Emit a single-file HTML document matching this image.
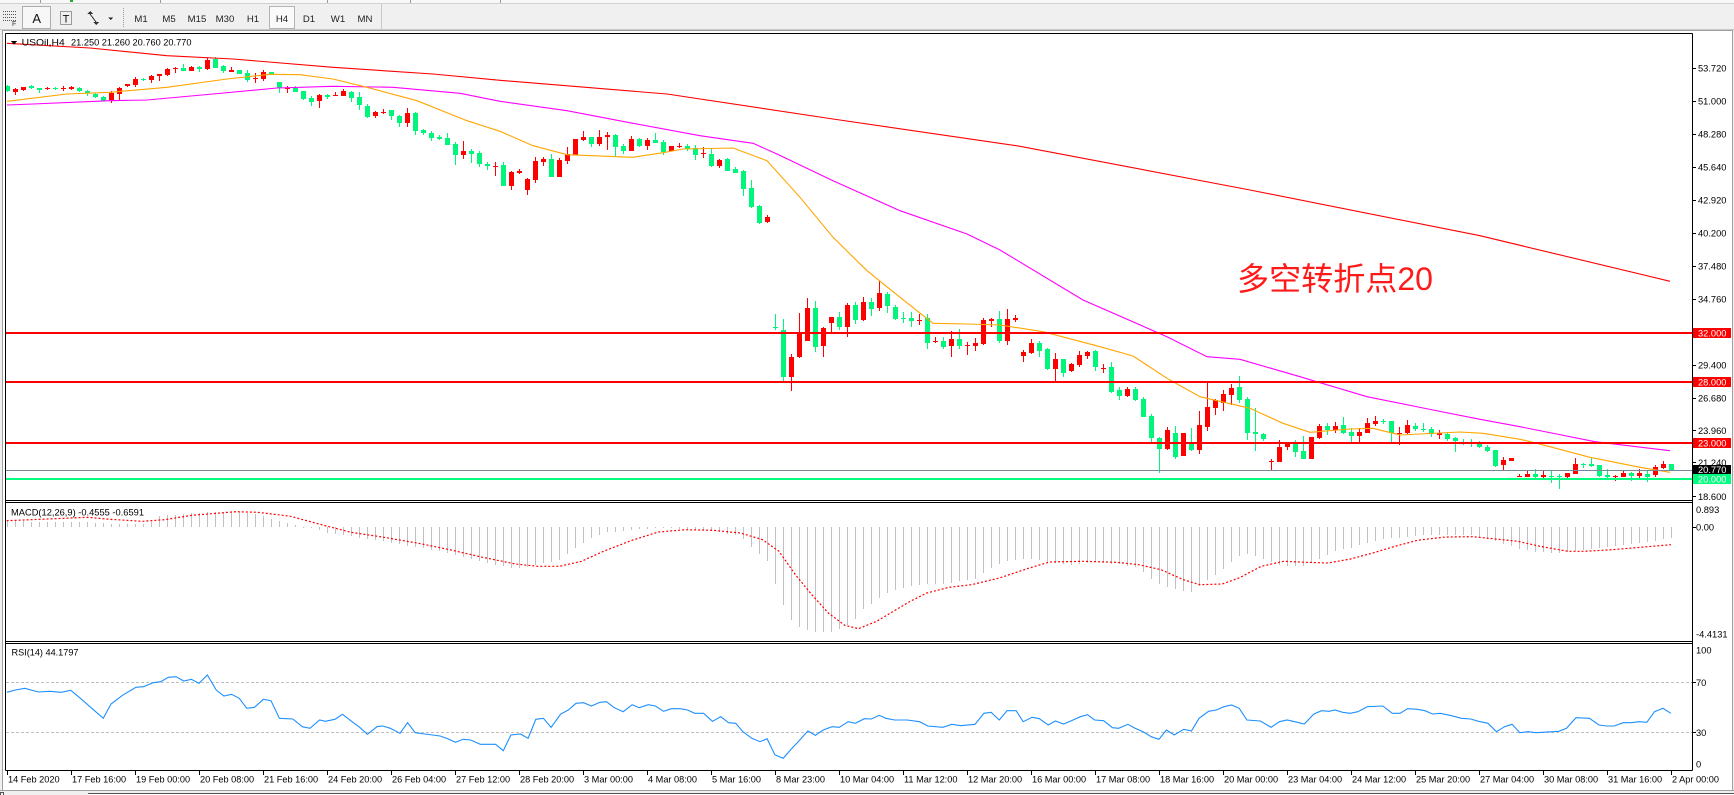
<!DOCTYPE html>
<html><head><meta charset="utf-8">
<style>
html,body{margin:0;padding:0;background:#F0F0F0;overflow:hidden;}
svg{display:block;}
text{font-family:"Liberation Sans","Noto Sans CJK SC",sans-serif;}
.ax{font-size:9.3px;fill:#000;}
.tb{font-size:9.6px;fill:#222;text-anchor:middle;}
</style></head>
<body>
<svg id="c" xmlns="http://www.w3.org/2000/svg" width="1734" height="795" viewBox="0 0 1734 795" shape-rendering="crispEdges">
<defs>
<clipPath id="mainclip"><rect x="6" y="34" width="1686" height="466"/></clipPath>
<clipPath id="macdclip"><rect x="6" y="503" width="1686" height="138"/></clipPath>
<clipPath id="rsiclip"><rect x="6" y="644" width="1686" height="126"/></clipPath>
</defs>
<rect x="0" y="0" width="1734" height="795" fill="#F0F0F0"/>
<!-- top strip -->
<rect x="0" y="0" width="1734" height="3" fill="#F8F8F8"/>
<line x1="0" y1="3.5" x2="1734" y2="3.5" stroke="#D0D0D0"/>
<rect x="40" y="0" width="1" height="3" fill="#999"/>
<rect x="70" y="0" width="3" height="2" fill="#22AA22"/>
<rect x="160" y="0" width="1" height="3" fill="#999"/>
<rect x="327" y="0" width="1" height="3" fill="#999"/>
<rect x="410" y="0" width="1" height="3" fill="#999"/>
<rect x="500" y="0" width="1" height="3" fill="#999"/>

<!-- toolbar -->
<g stroke="#555" stroke-dasharray="1,1" fill="none">
<line x1="3" y1="11.5" x2="16" y2="11.5"/>
<line x1="3" y1="14.5" x2="16" y2="14.5"/>
<line x1="3" y1="17.5" x2="16" y2="17.5"/>
<line x1="3" y1="20.5" x2="16" y2="20.5"/>
</g>
<text x="12" y="26" style="font-size:7px;fill:#333">F</text>
<rect x="22.5" y="6.5" width="28" height="22" fill="#F7F7F7" stroke="#ADADAD"/>
<text x="36.7" y="23" style="font-size:13px;fill:#111;text-anchor:middle">A</text>
<rect x="60.5" y="11.5" width="11" height="13" fill="none" stroke="#444" stroke-dasharray="1,1"/>
<text x="66" y="22.5" style="font-size:11px;fill:#111;text-anchor:middle">T</text>
<path d="M87 14 l3 -3 l3 3 z M93 22 l3 3 l3 -3 z" fill="#333"/>
<line x1="90" y1="14" x2="96" y2="22" stroke="#333"/>
<path d="M108 17.5 h5 l-2.5 2.5 z" fill="#222"/>
<line x1="123.5" y1="8" x2="123.5" y2="27" stroke="#999" stroke-dasharray="1,1"/>
<rect x="269.5" y="6.5" width="25" height="22" fill="#FAFAFA" stroke="#B4B4B4"/>
<text class="tb" x="141" y="22">M1</text>
<text class="tb" x="169" y="22">M5</text>
<text class="tb" x="197" y="22">M15</text>
<text class="tb" x="225" y="22">M30</text>
<text class="tb" x="253" y="22">H1</text>
<text class="tb" x="282" y="22">H4</text>
<text class="tb" x="309" y="22">D1</text>
<text class="tb" x="338" y="22">W1</text>
<text class="tb" x="365" y="22">MN</text>
<line x1="381.5" y1="4" x2="381.5" y2="30" stroke="#C8C8C8"/>
<line x1="0" y1="29.5" x2="1734" y2="29.5" stroke="#C8C8C8"/>

<!-- chart window -->
<rect x="3" y="30" width="1729" height="760" fill="#FFFFFF"/>
<line x1="2.5" y1="30" x2="2.5" y2="790" stroke="#A0A0A0"/>
<line x1="1732.5" y1="30" x2="1732.5" y2="790" stroke="#A0A0A0"/>
<line x1="3" y1="30.5" x2="1732" y2="30.5" stroke="#A0A0A0"/>

<!-- bottom -->
<rect x="0" y="790" width="1734" height="5" fill="#F0F0F0"/>
<line x1="0" y1="790.5" x2="1734" y2="790.5" stroke="#A0A0A0"/>
<line x1="88" y1="793.5" x2="1734" y2="793.5" stroke="#555"/>
<rect x="88" y="794" width="1646" height="1" fill="#FFFFFF"/>
<rect x="0.5" y="792.5" width="3" height="3" fill="none" stroke="#555"/>

<!-- main panel -->
<g clip-path="url(#mainclip)">
<g id="candles"></g>
<g shape-rendering="auto" fill="none" stroke-width="1.1">
<polyline stroke="#FF0000" points="7,43.3 90,48 167,55.7 233,59 333,67.3 433,74 500,80.3 667,94 833,119 1020,146.3 1250,190 1480,235.7 1670,281.3"/>
<polyline stroke="#FF00FF" points="7,105 33,104 110,100.7 147,100 213,94 277,88 333,86.3 393,87.3 460,93.3 500,101.3 567,110.7 633,123.3 700,135.7 753,143.3 777,154 833,180.7 900,210.7 967,234 1000,250 1083,300 1167,336.7 1207,356.7 1240,359.3 1300,376.7 1367,396.7 1433,410 1480,419.3 1520,426.7 1595,441.7 1670,450.7"/>
<polyline stroke="#FFA500" points="7,101.3 67,94 110,92.3 167,87.3 227,79 270,74.3 300,74.7 333,79 367,87.3 417,100.7 467,120.7 500,131.3 533,145.7 567,154.7 633,157.3 663,152.7 683,149 733,148 767,160.7 800,197.3 833,237.3 867,270.7 900,297.3 933,323.3 967,324 1000,325 1043,331.7 1100,346.7 1133,356 1167,378.3 1200,396.7 1250,408.3 1283,423.3 1310,432.3 1350,429 1373,428.3 1400,435 1460,432 1483,433.3 1520,439.3 1537,443.3 1590,457.3 1640,467.3 1670,472.3"/>
</g>
<rect x="6" y="332" width="1686" height="2" fill="#FF0000"/>
<rect x="6" y="381" width="1686" height="2" fill="#FF0000"/>
<rect x="6" y="442" width="1686" height="2" fill="#FF0000"/>
<rect x="6" y="470" width="1686" height="1" fill="#778899"/>
<rect x="6" y="478" width="1686" height="2" fill="#00FF7F"/>
</g>
<text x="1237" y="290" textLength="196" lengthAdjust="spacingAndGlyphs" style="font-family:'Liberation Sans','Noto Sans CJK SC',sans-serif;font-size:32px;fill:#FF1A1A" shape-rendering="auto">多空转折点20</text>
<path d="M11 41 h6 l-3 4 z" fill="#000"/>
<text class="ax" x="21.7" y="45.5" textLength="43" lengthAdjust="spacingAndGlyphs">USOil,H4</text>
<text class="ax" x="71" y="45.5" textLength="120.5" lengthAdjust="spacingAndGlyphs">21.250 21.260 20.760 20.770</text>

<!-- MACD panel -->
<g clip-path="url(#macdclip)">
<g id="hist"></g>
<polyline shape-rendering="auto" fill="none" stroke="#FF0000" stroke-width="1.2" stroke-dasharray="2,2" points="6.6,520.7 54.9,518.7 87.8,517.3 109.7,519.3 142.6,521.3 164.6,519.7 192,515.3 236,511.7 257.8,512.3 290.7,516.3 323.6,525.3 351,532.3 384,537.3 417,543 449.8,549.7 482.7,557.3 515.6,564 537.6,566.3 559.5,566.3 581.5,561.3 603.4,551.3 630.8,540.7 658.3,532 685.7,529.7 713,530.3 740.5,533 762.5,539.7 779,551.3 795.4,574.7 811.8,594.7 828.3,613 844.8,625.3 858.5,628.7 876.7,621.3 893.4,611.3 910.2,601.3 926.9,593 949.2,587.3 971.5,584.7 999.4,578 1027.2,568.7 1049.5,562 1083,561.3 1116.4,562.3 1138.7,564.7 1161,569.7 1183.3,579.7 1200,584.7 1222.3,584 1239,578 1261.3,566.3 1283.6,561.3 1306,562.3 1328.2,563 1350.5,559 1372.8,553 1395,546.3 1417.4,540.3 1445.3,537 1473,536.7 1495.5,539 1517.8,541.3 1540,546.3 1568,551.3 1584.6,551.3 1612.5,549.7 1640.4,547.3 1671,544.7"/>
</g>
<text class="ax" x="11" y="515.5" textLength="133" lengthAdjust="spacingAndGlyphs">MACD(12,26,9) -0.4555 -0.6591</text>

<!-- RSI panel -->
<g clip-path="url(#rsiclip)">
<line x1="6" y1="682.5" x2="1692" y2="682.5" stroke="#C0C0C0" stroke-dasharray="3,2"/>
<line x1="6" y1="732.5" x2="1692" y2="732.5" stroke="#C0C0C0" stroke-dasharray="3,2"/>
<polyline shape-rendering="auto" fill="none" stroke="#1E90FF" stroke-width="1.1" points="6.9,692.3 15.3,690 24.9,688.3 38.3,692 49.8,691.3 61.2,692.3 70.8,690.3 80.4,698.3 91.8,708.3 103.3,718.3 111,704 122.5,695.3 135.9,687.3 143.5,686.7 153.1,682.7 160.7,681.7 168.4,677.3 176,676.7 183.7,681 191.4,679.3 199,683.3 207.4,675 216.2,690 223.9,696 231.5,694.3 239.2,698.3 246.8,708.3 254.5,707.3 263.3,699.3 271,700.7 279.4,718.3 292.8,719 302.3,726.7 310,728.3 319.6,720 325.3,721.3 334.9,719.3 342.5,714.3 352.1,721.7 359.7,727.3 367.4,734.3 377,726.7 382.7,726 390.4,728.3 399.9,733.3 407.6,722.7 415.2,732.7 424.8,734 440.1,736 447.8,738.7 455.4,742.3 463.1,739.3 470.7,740 480.3,744.3 495.6,744.3 503.3,750.7 510.9,735 520.5,734 528.1,738.3 535.8,719.3 543.4,718.3 551.1,727.3 560.7,714 568.3,710 576,703.3 583.6,702.7 591.3,706 600,702.3 606.4,701.7 614.3,707.7 623.2,711.7 632.1,704.7 639.3,707.7 648.2,704.7 655.4,706 663.6,711.3 671.4,708.7 680.4,708.7 687.5,710 694.6,713.3 703.6,713.3 712.5,721.3 720.7,716.7 728.6,722.7 735.7,723.3 742.9,731.7 751.8,738.3 760,741.7 767.1,738.7 775,755 783.2,758.3 791.1,749.3 798.2,741.7 807.9,731 815.4,735.3 823.2,730 832.1,726.7 839.3,727.3 848.2,721.7 855.4,723.3 864.3,718.7 871.4,719 879.3,715.3 885.7,718.3 894.6,720 907.1,720 919.6,721.7 927.9,726 942.9,727.3 951.8,724.3 960.7,725.7 975,724.3 983.9,713.3 991.1,712.3 999.3,720 1007.1,710.7 1016.1,710.7 1023.2,721.7 1032.1,717.3 1039.3,718.7 1048.2,725 1055.4,721 1063.6,724 1071.4,720.7 1080.4,716.7 1087.5,714.7 1094.6,720 1103.6,720.7 1112.5,727.7 1118.6,728.3 1127.9,724.3 1134,727.7 1143.6,732 1151.2,736.7 1158.9,739.3 1166.5,730 1174.2,735 1183.8,729.3 1191.4,731 1199.1,718.3 1208.6,711.3 1216.3,710 1223.9,706.7 1231.6,705 1239.2,708.3 1246.9,720 1260.3,721 1271,727.3 1279.4,721.7 1287.1,720 1294.7,721.7 1304.3,724 1313.9,714 1321.5,710.7 1329.2,711.3 1334.9,710 1342.6,712.3 1350.2,713.3 1357.9,711.7 1367.4,706.7 1382.8,706 1392.3,713.3 1400,713.3 1407.6,708.7 1417.2,709.3 1424.9,710.7 1432.5,714 1440.2,713.3 1451.6,715.7 1461.2,718.3 1470.8,719 1478.4,721.3 1488,723.3 1496.4,731.7 1504.5,726.7 1512.1,724.3 1519.8,732.7 1528.2,731.7 1535.8,732.7 1558.8,731.3 1566.5,728.3 1576,717.7 1589.4,718.3 1599,725 1606.6,726 1614.3,726 1623.1,722.7 1631.5,722.7 1639.1,721.7 1646.8,722.3 1654.5,711.7 1662.9,708.3 1670.9,713.3"/>
</g>
<text class="ax" x="11.5" y="655.5" textLength="67" lengthAdjust="spacingAndGlyphs">RSI(14) 44.1797</text>

<!-- frames -->
<g stroke="#000" fill="none">
<line x1="5.5" y1="33.5" x2="5.5" y2="770.5"/>
<line x1="1692.5" y1="33.5" x2="1692.5" y2="770.5"/>
<line x1="5.5" y1="33.5" x2="1692.5" y2="33.5"/>
<line x1="5.5" y1="500.5" x2="1692.5" y2="500.5"/>
<line x1="5.5" y1="502.5" x2="1692.5" y2="502.5"/>
<line x1="5.5" y1="641.5" x2="1692.5" y2="641.5"/>
<line x1="5.5" y1="643.5" x2="1692.5" y2="643.5"/>
<line x1="5.5" y1="770.5" x2="1692.5" y2="770.5"/>
</g>

<!-- right axis ticks -->
<g stroke="#000">
<line x1="1692" y1="68.5" x2="1696" y2="68.5"/>
<line x1="1692" y1="101.5" x2="1696" y2="101.5"/>
<line x1="1692" y1="134.5" x2="1696" y2="134.5"/>
<line x1="1692" y1="167.5" x2="1696" y2="167.5"/>
<line x1="1692" y1="200.5" x2="1696" y2="200.5"/>
<line x1="1692" y1="233.5" x2="1696" y2="233.5"/>
<line x1="1692" y1="266.5" x2="1696" y2="266.5"/>
<line x1="1692" y1="299.5" x2="1696" y2="299.5"/>
<line x1="1692" y1="365.5" x2="1696" y2="365.5"/>
<line x1="1692" y1="398.5" x2="1696" y2="398.5"/>
<line x1="1692" y1="430.5" x2="1696" y2="430.5"/>
<line x1="1692" y1="462.5" x2="1696" y2="462.5"/>
<line x1="1692" y1="496.5" x2="1696" y2="496.5"/>
<line x1="1692" y1="527.5" x2="1696" y2="527.5"/>
<line x1="1692" y1="682.5" x2="1696" y2="682.5"/>
<line x1="1692" y1="732.5" x2="1696" y2="732.5"/>
</g>
<g class="ax">
<text class="ax" x="1698" y="71.6">53.720</text>
<text class="ax" x="1698" y="104.6">51.000</text>
<text class="ax" x="1698" y="137.6">48.280</text>
<text class="ax" x="1698" y="170.6">45.640</text>
<text class="ax" x="1698" y="203.6">42.920</text>
<text class="ax" x="1698" y="236.6">40.200</text>
<text class="ax" x="1698" y="269.6">37.480</text>
<text class="ax" x="1698" y="302.6">34.760</text>
<text class="ax" x="1698" y="368.3">29.400</text>
<text class="ax" x="1698" y="401.6">26.680</text>
<text class="ax" x="1698" y="434">23.960</text>
<text class="ax" x="1698" y="466">21.240</text>
<text class="ax" x="1698" y="500">18.600</text>
</g>
<rect x="1693" y="328" width="38" height="10" fill="#FF0000"/>
<text class="ax" x="1698" y="336.3" style="fill:#fff">32.000</text>
<rect x="1693" y="377" width="38" height="10" fill="#FF0000"/>
<text class="ax" x="1698" y="385.3" style="fill:#fff">28.000</text>
<rect x="1693" y="438" width="38" height="10" fill="#FF0000"/>
<text class="ax" x="1698" y="446.3" style="fill:#fff">23.000</text>
<rect x="1693" y="465" width="38" height="9" fill="#000000"/>
<text class="ax" x="1698" y="473" style="fill:#fff">20.770</text>
<rect x="1693" y="474" width="38" height="10" fill="#00FF7F"/>
<text class="ax" x="1698" y="482.3" style="fill:#fff">20.000</text>

<text class="ax" x="1696" y="513">0.893</text>
<text class="ax" x="1696" y="530.6">0.00</text>
<text class="ax" x="1696" y="637.5">-4.4131</text>
<text class="ax" x="1696" y="653.5">100</text>
<text class="ax" x="1696" y="685.8">70</text>
<text class="ax" x="1696" y="735.8">30</text>
<text class="ax" x="1696" y="767.5">0</text>

<!-- time axis -->
<g id="tticks" stroke="#000"></g>
<g id="tlabels"></g>
</svg>
<script>
(function(){
var D="g,155,172,152,175;r,165,173,162,182;r,160,167,158,170;g,157,163,153,165;g,162,167,161,176;r,161,166,158,168;g,162,166,158,168;r,162,163,157,170;r,160,164,157,167;g,162,170,158,174;g,170,177,168,185;g,179,190,177,191;g,189,200,186,201;r,177,197,170,208;r,163,179,160,197;r,151,156,149,158;r,135,152,130,160;g,134,136,131,142;r,126,137,123,146;r,121,127,121,140;r,105,122,102,125;r,102,106,99,116;g,101,110,91,112;r,98,110,97,111;g,99,106,97,115;r,77,106,73,107;g,75,101,70,102;g,96,112,94,117;r,108,113,100,114;g,109,119,108,120;g,117,137,108,143;r,133,133,118,146;r,114,136,108,140;g,114,121,113,121;g,145,161,145,178;r,162,162,156,176;g,163,173,156,174;g,172,194,170,197;g,192,203,186,215;r,183,202,180,223;g,183,188,180,196;r,182,187,173,187;r,172,185,165,186;g,174,191,171,204;g,189,214,175,227;g,215,248,211,251;r,234,247,231,251;r,233,233,225,241;g,229,247,228,257;g,246,267,243,279;r,238,266,222,278;g,237,290,234,302;g,288,298,284,304;g,298,312,292,320;g,309,314,303,318;g,313,332,297,332;g,331,362,325,393;r,351,362,322,374;g,351,359,346,386;g,357,389,350,398;g,389,397,384,407;r,396,396,384,425;g,393,455,384,456;r,414,455,410,467;r,410,416,405,420;r,435,467,432,482;r,381,437,370,446;r,375,383,370,397;g,375,428,360,428;r,378,428,372,428;r,360,381,339,389;r,316,362,316,362;r,310,317,291,320;g,309,329,309,338;r,309,330,289,335;r,303,308,293,347;g,302,338,300,370;g,336,351,330,359;r,315,351,306,351;g,315,336,313,340;r,318,335,313,348;g,318,326,297,327;g,323,354,319,362;r,336,351,336,351;r,337,337,327,342;g,336,346,330,350;g,343,362,334,378;r,358,358,340,373;g,359,396,343,399;r,378,395,375,401;g,374,410,372,411;g,405,416,400,416;g,412,464,408,486;g,461,520,438,522;g,515,566,513,569;r,549,563,543,567;g,880,880,840,888;g,888,1030,855,1048;r,968,1030,960,1070;r,900,968,836,972;r,822,922,792,922;g,822,938,800,955;r,882,935,880,968;r,850,866,850,895;g,850,878,834,887;r,813,878,806,908;g,813,857,804,870;r,804,857,789,862;g,804,824,792,845;r,776,822,740,832;g,780,816,774,838;g,819,855,814,858;g,852,852,833,868;g,852,860,833,880;r,858,858,841,874;g,852,926,840,946;r,920,920,910,928;g,920,938,910,944;r,915,935,890,970;g,915,935,885,946;r,932,932,925,962;r,927,935,912,950;r,858,930,852,932;r,855,860,852,880;g,855,920,830,928;r,856,920,825,932;r,852,858,842,864;r,953,966,948,983;r,927,958,916,960;g,927,950,921,968;g,946,1005,942,1008;r,974,1005,958,1043;g,974,1018,974,1028;r,990,1010,986,1013;r,963,993,951,998;r,954,966,950,976;g,952,1000,948,1010;r,1003,1003,990,1016;g,998,1074,984,1078;g,1068,1085,1059,1097;r,1066,1085,1059,1088;g,1066,1097,1059,1100;g,1096,1148,1088,1148;g,1146,1211,1140,1223;g,1211,1244,1208,1318;r,1189,1246,1178,1248;g,1197,1268,1176,1275;r,1197,1265,1197,1265;g,1230,1248,1182,1250;r,1173,1248,1132,1260;r,1119,1178,1040,1191;r,1098,1121,1096,1143;r,1080,1108,1068,1131;r,1062,1082,1050,1113;g,1060,1098,1026,1106;g,1095,1197,1089,1218;g,1194,1201,1122,1251;g,1199,1215,1197,1220;r,1282,1282,1276,1310;r,1239,1283,1218,1284;r,1227,1240,1223,1248;g,1227,1253,1218,1268;g,1251,1274,1206,1274;r,1210,1274,1208,1274;r,1176,1213,1170,1215;g,1176,1188,1166,1204;r,1176,1188,1164,1196;g,1173,1196,1150,1200;g,1193,1205,1181,1225;r,1194,1205,1183,1225;r,1167,1196,1153,1198;r,1161,1170,1145,1175;g,1162,1162,1156,1170;g,1161,1198,1161,1225;r,1198,1198,1178,1233;r,1172,1198,1158,1200;g,1175,1185,1166,1191;g,1184,1184,1168,1193;g,1184,1201,1178,1210;r,1197,1204,1188,1214;g,1199,1214,1193,1220;g,1211,1220,1208,1253;g,1224,1224,1214,1232;g,1226,1226,1216,1238;g,1225,1240,1221,1242;g,1240,1251,1232,1253;g,1248,1296,1248,1298;r,1278,1294,1270,1308;r,1272,1280,1272,1280;r,1326,1326,1320,1330;r,1320,1328,1308,1330;g,1320,1328,1306,1332;r,1323,1328,1308,1334;g,1326,1326,1310,1346;g,1326,1326,1320,1366;r,1318,1328,1316,1331;r,1290,1319,1272,1320;g,1290,1290,1286,1302;g,1290,1296,1270,1300;g,1292,1325,1292,1330;g,1322,1328,1306,1333;r,1326,1326,1322,1340;r,1316,1328,1308,1330;g,1318,1325,1313,1340;r,1316,1326,1306,1333;g,1320,1328,1308,1343;r,1298,1324,1294,1328;r,1290,1302,1282,1306;g,1290,1309,1290,1309";
var rows=D.split(';'),s='';
function Y(v){return Math.round(34+v/3);}
for(var i=0;i<rows.length;i++){
 var p=rows[i].split(',');
 var c=p[0]==='r'?'#FF0000':'#00F57A';
 var cx=7+8*i;
 var bt=Y(+p[1]),bb=Y(+p[2]),wt=Y(+p[3]),wb=Y(+p[4]);
 s+='<rect x="'+cx+'" y="'+wt+'" width="1" height="'+Math.max(1,wb-wt)+'" fill="'+c+'"/>';
 s+='<rect x="'+(cx-2)+'" y="'+bt+'" width="5" height="'+Math.max(1,bb-bt)+'" fill="'+c+'"/>';
}
document.getElementById('candles').innerHTML=s;

var H=[[6.6,521.3],[90.5,522],[93,523.3],[148,524],[159,516.3],[192,513],[236,511.3],[258,514.7],[280,521.3],[296,525.3],[307,527.3],[329,533],[384,541.3],[439,551.3],[494,564.7],[516,568.7],[538,564.7],[560,559.7],[576,548],[592,538],[603,533],[631,529.7],[658,528],[686,528.7],[713,531.3],[741,536.3],[752,548],[768,561.3],[775,583],[784,606.3],[793,623],[801,628],[817,633],[834,631.3],[847.5,624.7],[856,618],[860,611.3],[871,604.7],[879.5,598],[888,593],[904.6,587.3],[915.7,584.7],[943.6,584],[960,581.3],[974,579.7],[982.6,573],[991,568],[1007.7,560.7],[1027,558],[1055,563],[1072,564.7],[1094,562.3],[1122,564.7],[1138.7,568],[1150,578],[1161,584.7],[1177.7,589.7],[1191.7,592],[1205.6,581.3],[1216.7,574],[1228,564.7],[1239,556.3],[1250,553],[1264,559.7],[1278,564.7],[1294.8,566.3],[1306,566.3],[1317,559.7],[1333.8,551.3],[1350.5,548],[1367,543],[1384,538.7],[1395,538],[1412,536.3],[1428.6,534.7],[1451,534.7],[1473,535.3],[1490,539.7],[1506.6,544.7],[1523,549.7],[1537,552],[1557,553],[1579,550.3],[1601,548],[1629,544.7],[1651.5,541.3],[1671,538]];
function interp(P,x){if(x<=P[0][0])return P[0][1];for(var k=1;k<P.length;k++){if(x<=P[k][0]){var a=P[k-1],b=P[k];return a[1]+(b[1]-a[1])*(x-a[0])/(b[0]-a[0]);}}return P[P.length-1][1];}
var hs='';
for(var j=0;j<209;j++){
 var x=7+8*j,y=interp(H,x+0.33),y0=527;
 var t=Math.round(Math.min(y,y0)),b=Math.round(Math.max(y,y0));
 hs+='<rect x="'+x+'" y="'+t+'" width="1" height="'+Math.max(1,b-t)+'" fill="#C0C0C0"/>';
}
document.getElementById('hist').innerHTML=hs;

var L=["14 Feb 2020","17 Feb 16:00","19 Feb 00:00","20 Feb 08:00","21 Feb 16:00","24 Feb 20:00","26 Feb 04:00","27 Feb 12:00","28 Feb 20:00","3 Mar 00:00","4 Mar 08:00","5 Mar 16:00","8 Mar 23:00","10 Mar 04:00","11 Mar 12:00","12 Mar 20:00","16 Mar 00:00","17 Mar 08:00","18 Mar 16:00","20 Mar 00:00","23 Mar 04:00","24 Mar 12:00","25 Mar 20:00","27 Mar 04:00","30 Mar 08:00","31 Mar 16:00","2 Apr 00:00"];
var ts='',tl='';
for(var k=0;k<L.length;k++){
 var tx=7+64*k;
 ts+='<line x1="'+(tx+0.5)+'" y1="770" x2="'+(tx+0.5)+'" y2="775"/>';
 tl+='<text class="ax" x="'+(tx+1)+'" y="782.5" style="font-size:9.2px">'+L[k]+'</text>';
}
document.getElementById('tticks').innerHTML=ts;
document.getElementById('tlabels').innerHTML=tl;
})();
</script>
</body></html>
